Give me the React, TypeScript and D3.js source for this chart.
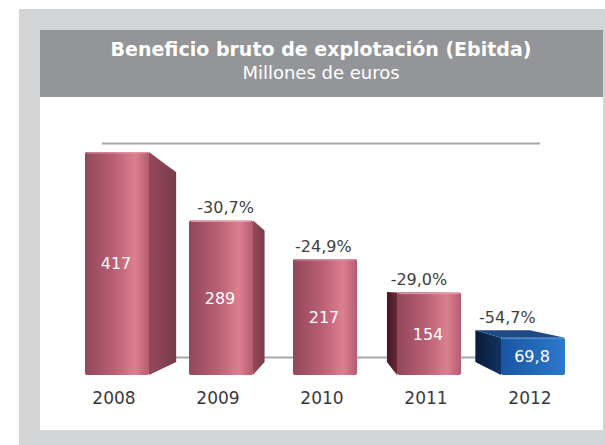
import React from 'react';
import * as d3 from 'd3';

const years = ['2008', '2009', '2010', '2011', '2012'];
const values = [417, 289, 217, 154, 69.8];
const valueLabels = ['417', '289', '217', '154', '69,8'];
const changeLabels = ['', '-30,7%', '-24,9%', '-29,0%', '-54,7%'];
const highlight = [false, false, false, false, true];
const gridValues = [0, 500];

const W = 605;
const H = 445;
const VP = { x: 330, y: 288 };
const K_BAR = 0.15;
const K_GRID = 0.2;
const BAR_W = 64;
const FONT = '"DejaVu Sans", "Open Sans", sans-serif';

type Pt = [number, number];
const proj = (p: Pt, k: number): Pt => [p[0] + k * (VP.x - p[0]), p[1] + k * (VP.y - p[1])];
const poly = (pts: Pt[]) => pts.map((p) => p.join(',')).join(' ');

export default function App() {
  const x = d3.scalePoint<string>().domain(years).range([117, 533]);
  const y = d3.scaleLinear().domain([0, 500]).range([375, 107.5]);

  const bars = years.map((yr, i) => {
    const cx = x(yr) as number;
    const x0 = cx - BAR_W / 2;
    const x1 = cx + BAR_W / 2;
    const yt = y(values[i]);
    const yb = y(0);
    const tl: Pt = [x0, yt], tr: Pt = [x1, yt], bl: Pt = [x0, yb], br: Pt = [x1, yb];
    const btl = proj(tl, K_BAR), btr = proj(tr, K_BAR), bbl = proj(bl, K_BAR), bbr = proj(br, K_BAR);
    return { yr, i, cx, x0, x1, yt, yb, tl, tr, bl, br, btl, btr, bbl, bbr };
  });

  return (
    <svg width={W} height={H} style={{ position: 'absolute', left: 0, top: 0 }} fontFamily={FONT}>
      <defs>
        <linearGradient id="pinkFront" x1="0" x2="1" y1="0" y2="0">
          <stop offset="0%" stopColor="#93475b" />
          <stop offset="45%" stopColor="#b95f73" />
          <stop offset="78%" stopColor="#dc7f91" />
          <stop offset="100%" stopColor="#b55c6e" />
        </linearGradient>
        <linearGradient id="pinkSideR" x1="0" x2="1" y1="0" y2="0">
          <stop offset="0%" stopColor="#95495b" />
          <stop offset="100%" stopColor="#7a3b4c" />
        </linearGradient>
        <linearGradient id="pinkSideL" x1="0" x2="1" y1="0" y2="0">
          <stop offset="0%" stopColor="#3e1820" />
          <stop offset="100%" stopColor="#6a2a38" />
        </linearGradient>
        <linearGradient id="blueFront" x1="0" x2="1" y1="0" y2="0">
          <stop offset="0%" stopColor="#1a55a2" />
          <stop offset="100%" stopColor="#2c79cc" />
        </linearGradient>
        <linearGradient id="blueSideL" x1="0" x2="1" y1="0" y2="0">
          <stop offset="0%" stopColor="#081c38" />
          <stop offset="100%" stopColor="#113463" />
        </linearGradient>
      </defs>

      <rect x={19} y={9} width={W - 19} height={H - 9} fill="#d3d4d6" />
      <rect x={40} y={97} width={563} height={333} fill="#ffffff" />
      <rect x={40} y={30} width={563} height={67} fill="#939598" />
      <text x={321} y={56} textAnchor="middle" fill="#ffffff" fontSize={19} fontWeight="bold">
        Beneficio bruto de explotación (Ebitda)
      </text>
      <text x={321} y={79} textAnchor="middle" fill="#ffffff" fontSize={18}>
        Millones de euros
      </text>

      {gridValues.map((v) => {
        const gy = VP.y + (y(v) - VP.y) * (1 - K_GRID);
        return <line key={v} x1={102} x2={540} y1={gy} y2={gy} stroke="#a7a7a9" strokeWidth={2} />;
      })}

      {bars.map((b) => {
        const hi = highlight[b.i];
        const faces: JSX.Element[] = [];
        if (b.x1 < VP.x - 1) {
          faces.push(
            <polygon key="sr" points={poly([b.tr, b.btr, b.bbr, b.br])} fill="url(#pinkSideR)" />
          );
        }
        if (b.x0 > VP.x + 1) {
          faces.push(
            <polygon
              key="sl"
              points={poly([b.tl, b.btl, b.bbl, b.bl])}
              fill={hi ? 'url(#blueSideL)' : 'url(#pinkSideL)'}
            />
          );
        }
        if (b.yt > VP.y) {
          faces.push(
            <polygon
              key="top"
              points={poly([b.tl, b.tr, b.btr, b.btl])}
              fill={hi ? '#1f4a86' : '#c06a7c'}
            />
          );
        }
        const shift = b.x0 > VP.x ? b.btl[0] - b.x0 : (b.btr[0] - b.x1) * 0.4;
        return (
          <g key={b.yr}>
            {faces}
            <rect
              x={b.x0}
              y={b.yt}
              width={BAR_W}
              height={b.yb - b.yt}
              rx={2}
              fill={hi ? 'url(#blueFront)' : 'url(#pinkFront)'}
            />
            <line x1={b.x0 + 2} x2={b.x1 - 2} y1={b.yt + 1} y2={b.yt + 1} stroke={hi ? '#4a8fd8' : '#e9a0ad'} strokeWidth={1} />
            <text
              x={b.cx - 1}
              y={(b.yt + b.yb) / 2 + 6}
              textAnchor="middle"
              fill="#ffffff"
              fontSize={16}
            >
              {valueLabels[b.i]}
            </text>
            {changeLabels[b.i] && (
              <text
                x={b.cx + shift}
                y={Math.min(b.yt, b.btl[1]) - 7}
                textAnchor="middle"
                fill="#404040"
                fontSize={16}
              >
                {changeLabels[b.i]}
              </text>
            )}
            <text x={b.cx - 3} y={404} textAnchor="middle" fill="#3a3a3a" fontSize={17}>
              {b.yr}
            </text>
          </g>
        );
      })}
    </svg>
  );
}
